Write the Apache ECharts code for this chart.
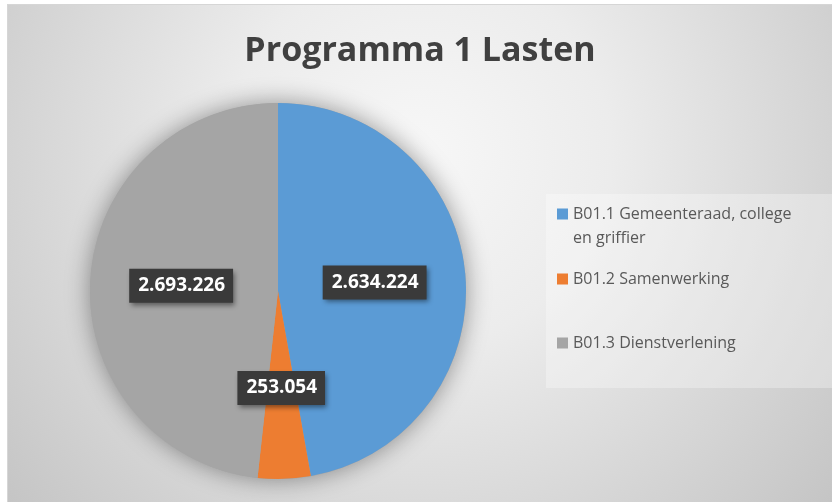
<!DOCTYPE html>
<html>
<head>
<meta charset="utf-8">
<style>
  html, body { margin: 0; padding: 0; background: #fff; overflow: hidden; }
  #chart { position: absolute; left: 7px; top: 4px; width: 825px; height: 498px; border-left: 1px solid #d6d6d6; border-top: 1px solid #d6d6d6; box-sizing: border-box; }
</style>
<script src="https://cdn.jsdelivr.net/npm/echarts@6/dist/echarts.min.js"></script>
</head>
<body>
<div id="chart"></div>
<script>
  const categories = ['B01.1 Gemeenteraad, college en griffier', 'B01.2 Samenwerking', 'B01.3 Dienstverlening'];
  const legendLines = [['B01.1 Gemeenteraad, college', 'en griffier'], ['B01.2 Samenwerking'], ['B01.3 Dienstverlening']];
  const values = [2634224, 253054, 2693226];
  const colors = ['#5b9bd5', '#ed7d31', '#a5a5a5'];

  function fmt(v) {
    return String(v).replace(/\B(?=(\d{3})+(?!\d))/g, '.');
  }

  const total = values.reduce((a, b) => a + b, 0);
  const center = [270, 286];
  const radius = 188;

  const legendTops = [197, 262, 326];
  const legends = categories.map((name, i) => ({
    data: [{
      name: name,
      // first item: square sits next to the first of two text lines
      icon: i === 0 ? 'path://M0,0H11V11H0Z M0,35H0.01' : 'rect'
    }],
    orient: 'vertical',
    left: 549,
    top: legendTops[i],
    padding: 0,
    itemWidth: 11,
    itemHeight: i === 0 ? 35 : 11,
    selectedMode: false,
    formatter: () => legendLines[i].join('\n'),
    textStyle: { color: '#595959', fontSize: 16, fontFamily: 'Open Sans', lineHeight: 24 }
  }));

  const chart = echarts.init(document.getElementById('chart'));
  chart.setOption({
    backgroundColor: new echarts.graphic.RadialGradient(0.5, 0.3, 1.1, [
      { offset: 0, color: '#f7f7f7' },
      { offset: 0.35, color: '#ececec' },
      { offset: 1, color: '#c4c4c4' }
    ]),
    color: colors,
    animation: false,
    title: {
      text: 'Programma 1 Lasten',
      left: 'center',
      top: 29,
      padding: [0, 0, 0, 34],
      textStyle: { color: '#404040', fontSize: 34, fontWeight: 'bold', fontFamily: 'Open Sans' }
    },
    graphic: [{
      type: 'rect',
      left: 538,
      top: 189,
      shape: { width: 300, height: 194 },
      style: { fill: 'rgba(255,255,255,0.3)' },
      silent: true,
      z: -1
    }],
    legend: legends,
    series: [
      {
        // soft shadow behind the whole pie
        type: 'pie',
        center: center,
        radius: radius,
        silent: true,
        label: { show: false },
        labelLine: { show: false },
        data: [{ name: '', value: total }],
        itemStyle: { color: '#a5a5a5', shadowBlur: 24, shadowColor: 'rgba(0,0,0,0.4)' },
        z: 1
      },
      {
        type: 'pie',
        center: center,
        radius: radius,
        startAngle: 90,
        clockwise: true,
        silent: true,
        data: categories.map((name, i) => ({ name: name, value: values[i] })),
        label: {
          show: true,
          position: 'inside',
          formatter: (p) => fmt(p.value),
          color: '#ffffff',
          fontSize: 19,
          fontWeight: 'bold',
          fontFamily: 'Open Sans',
          backgroundColor: '#3a3a3a',
          padding: [8, 8, 7, 9],
          shadowColor: 'rgba(0,0,0,0.45)',
          shadowBlur: 5,
          shadowOffsetX: 2,
          shadowOffsetY: 3
        },
        labelLine: { show: false },
        z: 2
      }
    ]
  });
</script>
</body>
</html>
